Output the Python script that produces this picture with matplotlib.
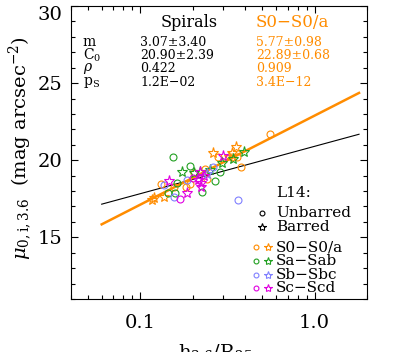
import numpy as np
import matplotlib
matplotlib.use("Agg")
import matplotlib.pyplot as plt
from matplotlib.ticker import FixedLocator, MultipleLocator, NullFormatter, LogLocator

plt.rcParams['font.family'] = ['DejaVu Serif']
plt.rcParams['mathtext.fontset'] = 'dejavuserif'

# colours per morphological type
c_s0 = '#ff8c00'
c_sa = '#22a022'
c_sb = '#8080ff'
c_sc = '#e000e0'

# h/R25 and mu_0; circles = unbarred, stars = barred
s0_unb_x = [0.557, 0.378, 0.358, 0.278, 0.235, 0.1315, 0.156, 0.182, 0.242, 0.203, 0.1925, 0.336]
s0_unb_y = [21.70, 19.54, 20.19, 20.19, 19.45, 18.46, 18.24, 18.24, 18.76, 19.15, 18.44, 20.20]
s0_bar_x = [0.262, 0.356, 0.338, 0.324, 0.120, 0.116, 0.136]
s0_bar_y = [20.45, 20.84, 20.45, 20.23, 17.55, 17.42, 17.59]

sa_unb_x = [0.1536, 0.194, 0.2856, 0.2685, 0.1626, 0.1443, 0.159, 0.225]
sa_unb_y = [20.23, 19.62, 19.25, 18.67, 18.55, 17.89, 17.89, 17.96]
sa_bar_x = [0.1725, 0.3945, 0.296, 0.203, 0.219, 0.342, 0.25]
sa_bar_y = [19.22, 20.53, 19.84, 19.20, 19.25, 20.06, 19.35]

sb_unb_x = [0.261, 0.136, 0.186, 0.156, 0.363]
sb_unb_y = [19.54, 18.41, 18.72, 17.59, 17.42]
sb_bar_x = [0.24]
sb_bar_y = [19.10]

sc_unb_x = [0.170, 0.200]
sc_unb_y = [17.46, 18.85]
sc_bar_x = [0.30, 0.22, 0.146, 0.214, 0.223, 0.186, 0.222, 0.232]
sc_bar_y = [20.25, 19.23, 18.67, 18.72, 18.24, 17.85, 18.50, 18.98]

# fits: mu = m*log10(h/R25) + C0
fit_spirals = dict(m=3.07, m_err=3.40, c0=20.90, c0_err=2.39, rho='0.422', ps='1.2E-02')
fit_s0 = dict(m=5.77, m_err=0.98, c0=22.89, c0_err=0.68, rho='0.909', ps='3.4E-12')
fit_range = [0.06, 1.8]

fig = plt.figure(figsize=(3.99, 3.52), dpi=100)
ax = fig.add_axes([71/399, 1-299/352, 296/399, 293/352])

xl = np.logspace(np.log10(fit_range[0]), np.log10(fit_range[1]), 50)
ax.plot(xl, fit_spirals['m']*np.log10(xl) + fit_spirals['c0'], color='black', lw=0.8)
ax.plot(xl, fit_s0['m']*np.log10(xl) + fit_s0['c0'], color=c_s0, lw=1.8)

groups = [
    (c_s0, s0_unb_x, s0_unb_y, s0_bar_x, s0_bar_y),
    (c_sa, sa_unb_x, sa_unb_y, sa_bar_x, sa_bar_y),
    (c_sb, sb_unb_x, sb_unb_y, sb_bar_x, sb_bar_y),
    (c_sc, sc_unb_x, sc_unb_y, sc_bar_x, sc_bar_y),
]
for col, ux, uy, bx, by in groups:
    ax.plot(ux, uy, 'o', ls='none', mfc='none', mec=col, ms=5, mew=0.8)
    ax.plot(bx, by, '*', ls='none', mfc='none', mec=col, ms=8, mew=0.8)

ax.set_xscale('log')
ax.set_xlim(0.04, 2.0)
ax.set_ylim(11, 30)
ax.xaxis.set_major_locator(FixedLocator([0.1, 1.0]))
ax.set_xticklabels(['0.1', '1.0'])
ax.xaxis.set_minor_locator(LogLocator(base=10, subs=np.arange(2, 10)))
ax.xaxis.set_minor_formatter(NullFormatter())
ax.yaxis.set_major_locator(FixedLocator([15, 20, 25, 30]))
ax.set_yticklabels(['15', '20', '25', '30'])
ax.yaxis.set_minor_locator(MultipleLocator(1))

ax.tick_params(which='both', direction='in', top=True, right=True, width=0.8)
ax.tick_params(which='major', length=5, labelsize=14)
ax.tick_params(which='minor', length=3)
ax.tick_params(axis='x', pad=11)
ax.tick_params(axis='y', pad=6)
for s in ax.spines.values():
    s.set_linewidth(0.8)
# keep the top label inside the figure
ax.get_yticklabels()[-1].set_va('top')

# statistics block
ax.text(0.399, 0.942, 'Spirals', transform=ax.transAxes, ha='center', va='center', fontsize=11.5)
ax.text(0.748, 0.942, 'S0\u2212S0/a', transform=ax.transAxes, ha='center', va='center', fontsize=12, color=c_s0)
rows_y = [0.877, 0.831, 0.785, 0.739]
row_labels = ['m', r'C$_0$', r'$\rho$', r'p$_\mathrm{S}$']
for yy, lab in zip(rows_y, row_labels):
    ax.text(0.04, yy, lab, transform=ax.transAxes, ha='left', va='center', fontsize=10)
for fit, x0, col in [(fit_spirals, 0.233, 'black'), (fit_s0, 0.624, c_s0)]:
    vals = ['%.2f\u00b1%.2f' % (fit['m'], fit['m_err']),
            '%.2f\u00b1%.2f' % (fit['c0'], fit['c0_err']),
            fit['rho'], fit['ps']]
    for yy, v in zip(rows_y, vals):
        ax.text(x0, yy, v.replace('-', '\u2212'), transform=ax.transAxes, ha='left', va='center',
                fontsize=9, color=col)

# legend
lx = 0.693
lfs = 11
ax.text(lx, 0.361, 'L14:', transform=ax.transAxes, ha='left', va='center', fontsize=lfs)
ax.text(lx, 0.295, 'Unbarred', transform=ax.transAxes, ha='left', va='center', fontsize=lfs)
ax.text(lx, 0.245, 'Barred', transform=ax.transAxes, ha='left', va='center', fontsize=lfs)
ax.plot([0.644], [0.295], 'o', transform=ax.transAxes, mfc='none', mec='black', ms=3.5, mew=0.8, clip_on=False)
ax.plot([0.644], [0.245], '*', transform=ax.transAxes, mfc='none', mec='black', ms=6, mew=0.8, clip_on=False)
leg_names = ['S0\u2212S0/a', 'Sa\u2212Sab', 'Sb\u2212Sbc', 'Sc\u2212Scd']
leg_cols = [c_s0, c_sa, c_sb, c_sc]
leg_y = [0.176, 0.131, 0.082, 0.036]
for name, col, yy in zip(leg_names, leg_cols, leg_y):
    ax.plot([0.625], [yy], 'o', transform=ax.transAxes, mfc='none', mec=col, ms=3.5, mew=0.8, clip_on=False)
    ax.plot([0.665], [yy], '*', transform=ax.transAxes, mfc='none', mec=col, ms=6, mew=0.8, clip_on=False)
    ax.text(lx, yy, name, transform=ax.transAxes, ha='left', va='center', fontsize=lfs)

fig.text(0.05, 0.58, r'$\mu_{\mathrm{0,i,3.6}}$  (mag arcsec$^{-2}$)', rotation=90, ha='center', va='center', fontsize=14)
fig.text(0.54, 1 - 342/352, r'h$_{3.6}$/R$_{25}$', ha='center', va='top', fontsize=14)

fig.savefig('out.png', dpi=100)
plt.close()
